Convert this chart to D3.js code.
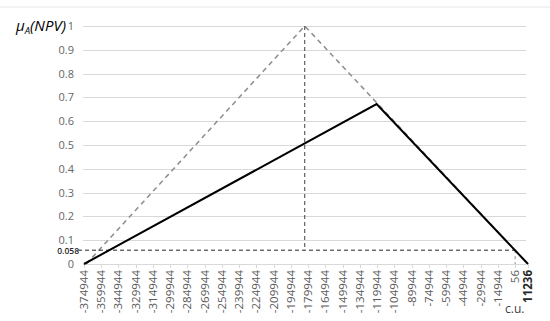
<!DOCTYPE html>
<html>
<head>
<meta charset="utf-8">
<script src="https://cdn.jsdelivr.net/npm/d3@7"></script>
<style>
  html, body { margin: 0; padding: 0; background: #fff; }
  svg text { font-family: "Open Sans", "Noto Sans", sans-serif; }
</style>
</head>
<body>
<div id="chart"></div>
<script>
// tick labels on the x axis (c.u.)
var xTicks = [-374944, -359944, -344944, -329944, -314944, -299944, -284944, -269944,
  -254944, -239944, -224944, -209944, -194944, -179944, -164944, -149944, -134944,
  -119944, -104944, -89944, -74944, -59944, -44944, -29944, -14944, 56, 11236];
var yTicks = [0, 0.1, 0.2, 0.3, 0.4, 0.5, 0.6, 0.7, 0.8, 0.9, 1];

// fuzzy number (grey dashed triangle)
var fuzzyX = [-373000, -182944, 11236];
var fuzzyY = [0, 1, 0];
// resulting membership (solid)
var resultX = [-374944, -120444, 11236];
var resultY = [0, 0.672, 0];
// cut level
var cutLevel = 0.058;
var cutX = 56;
var peakX = -182944;

var W = 550, H = 321;
var svg = d3.select("#chart").append("svg").attr("width", W).attr("height", H);

var x = d3.scaleLinear().domain([-374944, 11236]).range([84, 528]);
var y = d3.scaleLinear().domain([0, 1]).range([264, 26]);

// faint border line at the top
svg.append("line").attr("x1", 0).attr("x2", W).attr("y1", 7).attr("y2", 7)
  .attr("stroke", "#e6e6e6").attr("stroke-width", 1);

// gridlines
svg.append("g").selectAll("line").data(yTicks).enter().append("line")
  .attr("x1", 83).attr("x2", 526)
  .attr("y1", function (d) { return Math.round(y(d)) + 0.5; })
  .attr("y2", function (d) { return Math.round(y(d)) + 0.5; })
  .attr("stroke", "#d9d9d9").attr("stroke-width", 1);

// y labels
svg.append("g").selectAll("text").data(yTicks).enter().append("text")
  .attr("x", 74).attr("y", function (d) { return y(d) + 4; })
  .attr("text-anchor", "end").attr("font-size", "11px").attr("fill", "#666")
  .text(function (d) { return d3.format("")(+d.toFixed(1)); });

// x ticks
svg.append("g").selectAll("line").data(xTicks).enter().append("line")
  .attr("x1", function (d) { return Math.round(x(d)) + 0.5; })
  .attr("x2", function (d) { return Math.round(x(d)) + 0.5; })
  .attr("y1", 264).attr("y2", 268)
  .attr("stroke", "#d9d9d9");

// x labels, rotated
svg.append("g").selectAll("text").data(xTicks).enter().append("text")
  .attr("transform", function (d) { return "translate(" + (x(d) + 4) + ",270) rotate(-90)"; })
  .attr("text-anchor", "end").attr("font-size", "11.5px")
  .attr("fill", function (d) { return d === 11236 ? "#262626" : "#595959"; })
  .attr("font-weight", function (d) { return d === 11236 ? "bold" : "normal"; })
  .text(function (d) { return d; });

var line = d3.line().x(function (d) { return x(d[0]); }).y(function (d) { return y(d[1]); });

// grey dashed triangle
svg.append("path").datum(d3.zip(fuzzyX, fuzzyY)).attr("d", line)
  .attr("fill", "none").attr("stroke", "#8c8c8c").attr("stroke-width", 1.5)
  .attr("stroke-dasharray", "5,4");

// vertical dashed at cut x
svg.append("line").attr("x1", x(cutX)).attr("x2", x(cutX))
  .attr("y1", y(cutLevel)).attr("y2", y(0))
  .attr("stroke", "#8c8c8c").attr("stroke-width", 1).attr("stroke-dasharray", "3,3");

// vertical dashed from peak
svg.append("line").attr("x1", x(peakX)).attr("x2", x(peakX))
  .attr("y1", y(1)).attr("y2", y(cutLevel))
  .attr("stroke", "#404040").attr("stroke-width", 1).attr("stroke-dasharray", "4,3");

// horizontal cut line
svg.append("line").attr("x1", 78).attr("x2", x(cutX))
  .attr("y1", y(cutLevel)).attr("y2", y(cutLevel))
  .attr("stroke", "#262626").attr("stroke-width", 1).attr("stroke-dasharray", "4,3");

// solid result
svg.append("path").datum(d3.zip(resultX, resultY)).attr("d", line)
  .attr("fill", "none").attr("stroke", "#000").attr("stroke-width", 2);

// cut label
svg.append("text").attr("x", 79).attr("y", y(cutLevel) + 4)
  .attr("text-anchor", "end").attr("font-size", "8.5px").attr("fill", "#262626")
  .attr("font-weight", "600").text(cutLevel);

// y title
var t = svg.append("text").attr("x", 16).attr("y", 31)
  .attr("font-family", "'Liberation Serif', serif").attr("font-style", "italic")
  .attr("font-size", "15px").attr("fill", "#000");
t.append("tspan").text("μ");
t.append("tspan").attr("font-size", "9.5px").attr("dy", 3).text("A");
t.append("tspan").attr("dy", -3).text("(NPV)");

// x unit
svg.append("text").attr("x", 505).attr("y", 313)
  .attr("font-size", "12px").attr("fill", "#404040").text("c.u.");
</script>
</body>
</html>
